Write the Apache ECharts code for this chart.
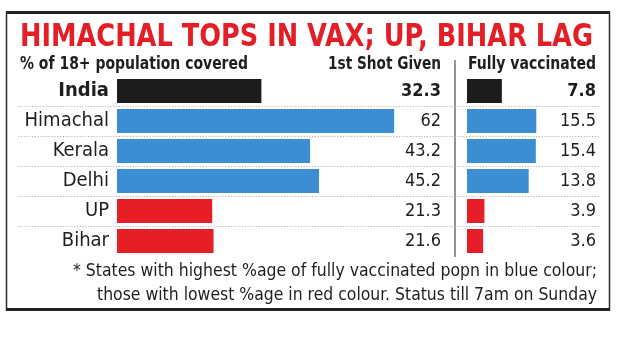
<!DOCTYPE html>
<html>
<head>
<meta charset="utf-8">
<script src="https://cdn.jsdelivr.net/npm/echarts@6/dist/echarts.min.js"></script>
<style>
html,body{margin:0;padding:0;background:#fff;}
#chart{width:635px;height:356px;}
</style>
</head>
<body>
<div id="chart"></div>
<script>
// ---- data ----
const states = ['India', 'Himachal', 'Kerala', 'Delhi', 'UP', 'Bihar'];
const firstShot = [32.3, 62, 43.2, 45.2, 21.3, 21.6];
const fullyVax = [7.8, 15.5, 15.4, 13.8, 3.9, 3.6];
const groups = ['india', 'high', 'high', 'high', 'low', 'low'];
const titleText = 'HIMACHAL TOPS IN VAX; UP, BIHAR LAG';
const subtitleText = '% of 18+ population covered';
const headerFirst = '1st Shot Given';
const headerFull = 'Fully vaccinated';
const footLines = [
  '* States with highest %age of fully vaccinated popn in blue colour;',
  'those with lowest %age in red colour. Status till 7am on Sunday'
];

// ---- styles ----
const FONT = '"DejaVu Sans Condensed", "DejaVu Sans", sans-serif';
const groupColor = { india: '#1c1c1c', high: '#3d8dd3', low: '#e61e26' };
const TXT = '#1e1e1e';
const PX = 4.47; // pixels per percentage point, same for both panels

const G = { top: 76, height: 180 };
const g1 = { left: 117, right: 441 };
const g2 = { left: 467, right: 596 };

const ctx = document.createElement('canvas').getContext('2d');
function fitScale(text, font, target) {
  ctx.font = font;
  const w = ctx.measureText(text).width;
  return target / w;
}

function textEl(text, x, y, font, fill, align, targetW) {
  const el = {
    type: 'text', x: x, y: y, silent: true,
    style: { text: text, font: font, fill: fill, textAlign: align, textVerticalAlign: 'middle' }
  };
  if (targetW) el.scaleX = fitScale(text, font, targetW);
  return el;
}

const chart = echarts.init(document.getElementById('chart'), null, { renderer: 'canvas' });

const rich = {
  b: { fontFamily: FONT, fontWeight: 'bold', fontSize: 20, color: TXT },
  n: { fontFamily: FONT, fontWeight: 'normal', fontSize: 20, color: TXT },
  vb: { fontFamily: FONT, fontWeight: 'bold', fontSize: 18, color: TXT },
  vn: { fontFamily: FONT, fontWeight: 'normal', fontSize: 18, color: TXT }
};

function barData(vals) {
  return vals.map((v, i) => ({ value: v, itemStyle: { color: groupColor[groups[i]] } }));
}

const option = {
  backgroundColor: '#fff',
  animation: false,
  grid: [
    { left: 18, top: G.top, width: 582, height: G.height },
    { left: g1.left, top: G.top, width: g1.right - g1.left, height: G.height },
    { left: g2.left, top: G.top, width: g2.right - g2.left, height: G.height }
  ],
  xAxis: [
    { gridIndex: 0, type: 'value', show: false, min: 0, max: 1 },
    { gridIndex: 1, type: 'value', show: false, min: 0, max: (g1.right - g1.left) / PX },
    { gridIndex: 2, type: 'value', show: false, min: 0, max: (g2.right - g2.left) / PX }
  ],
  yAxis: [
    {
      gridIndex: 0, type: 'category', data: states, inverse: true,
      axisLine: { show: false }, axisTick: { show: false }, axisLabel: { show: false },
      splitLine: { show: true, showMinLine: false, showMaxLine: false,
        lineStyle: { type: [1.2, 1.6], color: '#b5b5b5', width: 1 } }
    },
    {
      gridIndex: 1, type: 'category', data: states, inverse: true, position: 'left',
      axisLine: { show: false }, axisTick: { show: false }, splitLine: { show: false },
      axisLabel: { margin: 8, rich: rich,
        formatter: (v, i) => (i === 0 ? '{b|' + v + '}' : '{n|' + v + '}') }
    },
    {
      gridIndex: 1, type: 'category', data: states, inverse: true, position: 'right',
      axisLine: { show: false }, axisTick: { show: false }, splitLine: { show: false },
      axisLabel: { inside: true, margin: 0, rich: rich,
        formatter: (v, i) => (i === 0 ? '{vb|' + firstShot[i] + '}' : '{vn|' + firstShot[i] + '}') }
    },
    {
      gridIndex: 2, type: 'category', data: states, inverse: true, position: 'right',
      axisLine: { show: false }, axisTick: { show: false }, splitLine: { show: false },
      axisLabel: { inside: true, margin: 0, rich: rich,
        formatter: (v, i) => (i === 0 ? '{vb|' + fullyVax[i] + '}' : '{vn|' + fullyVax[i] + '}') }
    }
  ],
  series: [
    { type: 'bar', xAxisIndex: 1, yAxisIndex: 1, barWidth: 24, data: barData(firstShot), silent: true },
    { type: 'bar', xAxisIndex: 2, yAxisIndex: 3, barWidth: 24, data: barData(fullyVax), silent: true }
  ],
  graphic: [
    // frame
    { type: 'rect', shape: { x: 6.5, y: 13, width: 603, height: 297 }, style: { fill: 'none', stroke: '#2a2a2a', lineWidth: 1.5 }, silent: true },
    { type: 'line', shape: { x1: 6, y1: 12.5, x2: 610, y2: 12.5 }, style: { stroke: '#222', lineWidth: 3 }, silent: true },
    { type: 'line', shape: { x1: 6, y1: 309.5, x2: 610, y2: 309.5 }, style: { stroke: '#222', lineWidth: 3 }, silent: true },
    // separator
    { type: 'line', shape: { x1: 455, y1: 60, x2: 455, y2: 257 }, style: { stroke: '#707070', lineWidth: 1.5 }, silent: true },
    textEl(titleText, 20, 38, 'bold 32px ' + FONT, '#e41e26', 'left', 573),
    textEl(subtitleText, 20, 65, 'bold 17px ' + FONT, TXT, 'left', 228),
    textEl(headerFirst, 441, 65, 'bold 17px ' + FONT, TXT, 'right', 113),
    textEl(headerFull, 596, 65, 'bold 17px ' + FONT, TXT, 'right', 128),
    textEl(footLines[0], 597, 271, '18px ' + FONT, TXT, 'right', 524),
    textEl(footLines[1], 597, 295, '18px ' + FONT, TXT, 'right', 500)
  ]
};
chart.setOption(option);
</script>
</body>
</html>
